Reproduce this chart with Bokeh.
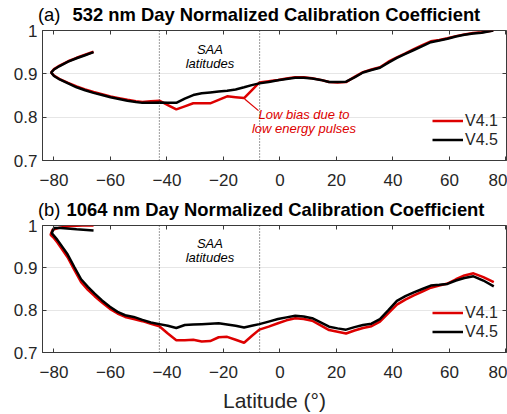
from bokeh.plotting import figure
from bokeh.models import Range1d, FixedTicker, LinearAxis, Span, Label, Legend, LegendItem, Div
from bokeh.layouts import column
from bokeh.embed import file_html
from bokeh.resources import INLINE

X_TICKS = [-80, -60, -40, -20, 0, 20, 40, 60, 80]
Y_TICKS = [0.7, 0.8, 0.9, 1.0]
Y_LABELS = {0.7: "0.7", 0.8: "0.8", 0.9: "0.9", 1.0: "1"}
SAA_BOUNDS = [-42.7, -7.2]
X_MIN, X_MAX = -84.07, 80.2

# (a) 532 nm
top_v45_lat = [-66, -69, -72, -75, -78, -80, -81,
               -80, -78, -75, -72, -69, -66, -63, -60, -57, -54, -51, -48.7, -45.7, -42.7,
               -39.7, -36.7, -33.7, -30.7, -27.7, -24.7, -21.7, -18.7, -15.7, -12.7, -10, -7.3,
               -4, -0.7, 2.3, 5.4, 8.4, 11.4, 14.4, 17.4, 20.4, 23.4, 26.4, 29.4, 32.4, 35.4,
               38.4, 41.4, 44.4, 47.4, 50.4, 53.4, 56.4, 59.3, 62.3, 65.3, 68.4, 71.4, 75.5]
top_v45_val = [0.950, 0.943, 0.936, 0.928, 0.918, 0.910, 0.903,
               0.895, 0.887, 0.878, 0.869, 0.862, 0.856, 0.851, 0.846, 0.842, 0.838, 0.835, 0.833, 0.833, 0.834,
               0.833, 0.833, 0.843, 0.851, 0.855, 0.857, 0.859, 0.861, 0.864, 0.869, 0.874, 0.878,
               0.881, 0.885, 0.888, 0.891, 0.891, 0.889, 0.886, 0.881, 0.881, 0.882, 0.892, 0.903, 0.909, 0.914,
               0.926, 0.937, 0.946, 0.955, 0.964, 0.973, 0.977, 0.981, 0.986, 0.990, 0.993, 0.995, 1.000]
top_v41_lat = list(top_v45_lat)
top_v41_val = [0.951, 0.944, 0.937, 0.929, 0.919, 0.911, 0.903,
               0.896, 0.888, 0.879, 0.871, 0.864, 0.858, 0.853, 0.848, 0.844, 0.840, 0.837, 0.835, 0.837, 0.838,
               0.828, 0.818, 0.825, 0.832, 0.832, 0.832, 0.840, 0.848, 0.846, 0.844, 0.862, 0.880,
               0.883, 0.886, 0.889, 0.892, 0.892, 0.890, 0.886, 0.881, 0.880, 0.881, 0.893, 0.904, 0.910, 0.915,
               0.928, 0.938, 0.947, 0.957, 0.966, 0.975, 0.978, 0.982, 0.987, 0.991, 0.994, 0.996, 1.000]

# (b) 1064 nm
bot_v45_lat = [-66, -72, -77.6, -80, -80.8,
               -78.8, -75.2, -72.8, -70.4, -68, -65.6, -63, -60.2, -57.5, -54.8, -51.8, -48.7, -45.7, -42.7,
               -39.7, -36.7, -33.7, -30.7, -27.7, -24.7, -21.7, -18.7, -15.7, -12.7, -10, -7.3,
               -4, -0.7, 2.3, 5.4, 8.4, 11.4, 14.4, 17.4, 20.4, 23.4, 26.4, 29.4, 32.4, 35.4,
               38.4, 41.4, 44.4, 47.4, 50.4, 53.4, 56.4, 59.3, 62.3, 65.3, 68.5, 72, 75.7]
bot_v45_val = [0.988, 0.991, 0.994, 0.994, 0.982,
               0.966, 0.932, 0.902, 0.873, 0.855, 0.839, 0.823, 0.808, 0.796, 0.788, 0.784, 0.777, 0.771, 0.767,
               0.763, 0.758, 0.765, 0.766, 0.767, 0.768, 0.769, 0.766, 0.763, 0.759, 0.763, 0.767,
               0.773, 0.779, 0.783, 0.787, 0.785, 0.781, 0.771, 0.761, 0.757, 0.754, 0.760, 0.765, 0.768, 0.779,
               0.800, 0.822, 0.833, 0.842, 0.850, 0.858, 0.860, 0.862, 0.870, 0.876, 0.880, 0.870, 0.856]
bot_v41_lat = [-66, -70, -74, -78, -80.5, -81.2,
               -80, -78.8, -75.2, -72.8, -70.4, -68, -65.6, -63, -60.2, -57.5, -54.8, -51.8, -48.7, -45.7, -42.7,
               -39.7, -36.7, -33.7, -30.7, -27.7, -24.7, -21.7, -18.7, -15.7, -12.7, -10, -7.3,
               -4, -0.7, 2.3, 5.4, 8.4, 11.4, 14.4, 17.4, 20.4, 23.4, 26.4, 29.4, 32.4, 35.4,
               38.4, 41.4, 44.4, 47.4, 50.4, 53.4, 56.4, 59.3, 62.3, 65.3, 68.5, 72, 75.7]
bot_v41_val = [1.000, 1.000, 0.999, 0.995, 0.990, 0.978,
               0.970, 0.960, 0.925, 0.895, 0.866, 0.848, 0.833, 0.818, 0.803, 0.792, 0.784, 0.779, 0.774, 0.768, 0.762,
               0.745, 0.729, 0.729, 0.730, 0.726, 0.727, 0.736, 0.737, 0.730, 0.723, 0.739, 0.754,
               0.761, 0.769, 0.776, 0.781, 0.779, 0.775, 0.764, 0.753, 0.749, 0.745, 0.752, 0.758, 0.762, 0.773,
               0.793, 0.813, 0.825, 0.835, 0.844, 0.853, 0.858, 0.863, 0.873, 0.882, 0.887, 0.878, 0.866]

RED = "#dd0000"
BOX = "#3a3a3a"
TXT = "#262626"
FONT = "Liberation Sans"


def heading(tag, title, gap):
    html = ('<span style="margin-left:38px">%s</span>'
            '<b style="margin-left:%dpx">%s</b>' % (tag, gap, title))
    return Div(text=html, width=507, height=20, margin=0,
               styles={"font-family": FONT, "font-size": "18.4px", "line-height": "30px",
                       "color": "black", "white-space": "nowrap", "overflow": "visible"})


def tick_only_axis(ticks, loc, tick_in, tick_out):
    return LinearAxis(ticker=FixedTicker(ticks=ticks), fixed_location=loc,
                      major_label_text_font_size="1px", major_label_text_color=None,
                      major_tick_in=tick_in, major_tick_out=tick_out, major_label_standoff=0,
                      axis_label_standoff=0, minor_tick_line_color=None,
                      axis_line_color=BOX, major_tick_line_color=BOX)


def make_panel(height, bottom_border, v41_lat, v41_val, v45_lat, v45_val, xlabel=None):
    p = figure(width=507, height=height, x_range=Range1d(X_MIN, X_MAX), y_range=Range1d(0.7, 1.0),
               output_backend="svg", toolbar_location=None,
               min_border_left=42, min_border_right=1, min_border_top=10, min_border_bottom=bottom_border)
    p.outline_line_color = BOX
    p.background_fill_color = "white"
    p.border_fill_alpha = 0
    p.xgrid.visible = False
    p.ygrid.ticker = FixedTicker(ticks=[0.8, 0.9])
    p.ygrid.grid_line_color = "#e6e6e6"
    p.ygrid.grid_line_width = 1

    p.xaxis.ticker = FixedTicker(ticks=X_TICKS)
    p.yaxis.ticker = FixedTicker(ticks=Y_TICKS)
    p.yaxis.major_label_overrides = Y_LABELS
    for ax in (p.xaxis[0], p.yaxis[0]):
        ax.axis_line_color = BOX
        ax.major_tick_line_color = BOX
        ax.major_tick_in = 4
        ax.major_tick_out = 0
        ax.minor_tick_line_color = None
        ax.major_label_text_font = FONT
        ax.major_label_text_font_size = "17px"
        ax.major_label_text_color = TXT
    p.xaxis.major_label_standoff = 13
    p.yaxis.major_label_standoff = 5
    if xlabel:
        p.xaxis.axis_label = xlabel
        p.xaxis.axis_label_text_font = FONT
        p.xaxis.axis_label_text_font_style = "normal"
        p.xaxis.axis_label_text_font_size = "21px"
        p.xaxis.axis_label_text_color = TXT
        p.xaxis.axis_label_standoff = 8

    # box ticks on top and right edges (drawn at fixed locations, pointing into the frame)
    p.add_layout(tick_only_axis(X_TICKS, 1.0, 4, 0), "above")
    p.add_layout(tick_only_axis(Y_TICKS, X_MAX, 0, 4), "left")

    for loc in SAA_BOUNDS:
        p.add_layout(Span(location=loc, dimension="height", line_color="#222222",
                          line_dash="1 2", line_width=0.9))

    r1 = p.line(v41_lat, v41_val, line_color=RED, line_width=2.5)
    r2 = p.line(v45_lat, v45_val, line_color="black", line_width=2.5)

    leg = Legend(items=[LegendItem(label="V4.1", renderers=[r1]), LegendItem(label="V4.5", renderers=[r2])],
                 location=(390, 11), margin=0, padding=0, spacing=0,
                 glyph_width=31, glyph_height=19, label_height=19, label_standoff=2,
                 label_text_font=FONT, label_text_font_size="16px", label_text_color=TXT,
                 border_line_color=None, background_fill_alpha=0)
    p.add_layout(leg)

    p.add_layout(Label(x=-24.8, y=0.957, text="SAA", text_font=FONT, text_font_size="13px",
                       text_font_style="italic", text_color="black", text_baseline="middle", text_align="center"))
    p.add_layout(Label(x=-24.8, y=0.924, text="latitudes", text_font=FONT, text_font_size="13px",
                       text_font_style="italic", text_color="black", text_baseline="middle", text_align="center"))
    return p


head_a = heading("(a)", "532 nm Day Normalized Calibration Coefficient", 12)
p1 = make_panel(175, 35, top_v41_lat, top_v41_val, top_v45_lat, top_v45_val)
# annotation of low bias
p1.line([-12.5, -7.6], [0.842, 0.815], line_color=RED, line_width=1.2)
p1.add_layout(Label(x=8.5, y=0.807, text="Low bias due to", text_font=FONT, text_font_size="13px",
                    text_font_style="italic", text_color=RED, text_baseline="middle", text_align="center"))
p1.add_layout(Label(x=8.5, y=0.775, text="low energy pulses", text_font=FONT, text_font_size="13px",
                    text_font_style="italic", text_color=RED, text_baseline="middle", text_align="center"))

head_b = heading("(b)", "1064 nm Day Normalized Calibration Coefficient", 6)
p2 = make_panel(199, 59, bot_v41_lat, bot_v41_val, bot_v45_lat, bot_v45_val, xlabel="Latitude (°)")

layout = column(head_a, p1, head_b, p2, spacing=0)
open("out.html", "w").write(file_html(layout, INLINE))
